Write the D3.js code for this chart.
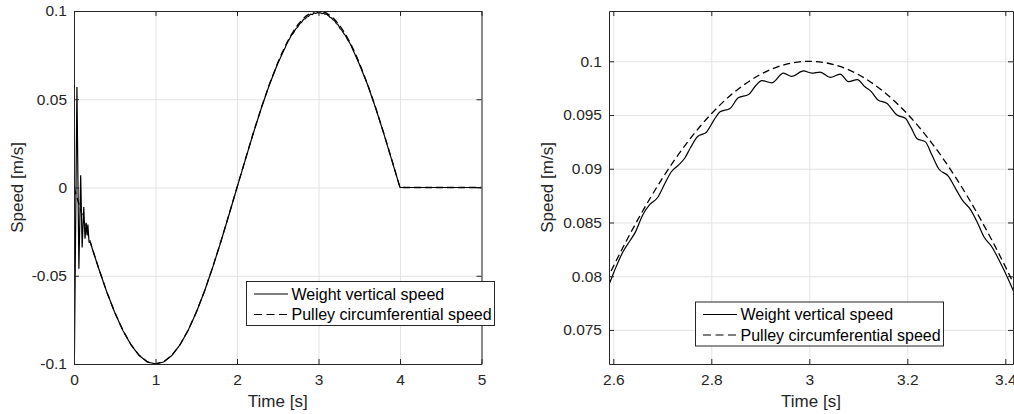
<!DOCTYPE html>
<html>
<head>
<meta charset="utf-8">
<script src="https://cdn.jsdelivr.net/npm/d3@7"></script>
<style>
	body { margin: 0; background: #fff; }
	svg { font-family: "Liberation Sans", Arial, sans-serif; }
	.tick text { fill: #262626; font-size: 15.5px; }
	.axis-title { fill: #262626; font-size: 17px; }
	.legend-labels { fill: #000; font-size: 16px; }
</style>
</head>
<body>
<svg id="viz" width="1014" height="414"></svg>
<script>

// Weight vertical speed [m/s] (denser around the peak)
const weightTime = [0, 0.005, 0.036, 0.06, 0.082, 0.1, 0.12, 0.135, 0.15, 0.16, 0.17, 0.185,
	0.2, 0.25, 0.3, 0.4, 0.5, 0.6, 0.7, 0.8, 0.9, 1.0, 1.1, 1.2, 1.3, 1.4, 1.5, 1.6, 1.7, 1.8, 1.9,
	2.0, 2.1, 2.2, 2.3, 2.4, 2.5, 2.55, 2.575, 2.591, 2.605, 2.62, 2.634, 2.645, 2.66, 2.675, 2.69,
	2.705, 2.718, 2.732, 2.746, 2.758, 2.772, 2.79, 2.805, 2.818, 2.838, 2.855, 2.876, 2.89, 2.903,
	2.924, 2.947, 2.964, 2.988, 3.005, 3.022, 3.043, 3.063, 3.08, 3.098, 3.114, 3.126, 3.14, 3.158,
	3.179, 3.196, 3.208, 3.22, 3.237, 3.25, 3.264, 3.284, 3.298, 3.312, 3.329, 3.343, 3.356, 3.373,
	3.385, 3.397, 3.414, 3.43, 3.5, 3.6, 3.7, 3.8, 3.9, 4.0, 5.0];
const weightSpeed = [0, -0.097, 0.057, -0.046, 0.007, -0.034, -0.011, -0.029, -0.02, -0.027, -0.021, -0.031,
	-0.0312, -0.0384, -0.0455, -0.0589, -0.0708, -0.081, -0.0892, -0.0952, -0.0989, -0.0999, -0.0989, -0.0952, -0.0892, -0.081, -0.0708, -0.0589, -0.0455, -0.031, -0.0157,
	-0.0001, 0.0154, 0.0307, 0.0452, 0.0585, 0.0703, 0.0752, 0.0777, 0.0792, 0.0808, 0.0823, 0.0833, 0.0841, 0.0857, 0.0867, 0.0873,
	0.0886, 0.0897, 0.0903, 0.091, 0.092, 0.093, 0.0934, 0.0945, 0.0953, 0.0956, 0.0966, 0.0969, 0.0977, 0.0982,
	0.098, 0.0989, 0.0986, 0.0991, 0.0989, 0.099, 0.0985, 0.0988, 0.0981, 0.0983, 0.0976, 0.0972, 0.0964, 0.0961,
	0.095, 0.0947, 0.0938, 0.0928, 0.0925, 0.0913, 0.09, 0.0893, 0.0882, 0.0871, 0.0862, 0.085, 0.0837, 0.0827,
	0.0817, 0.0806, 0.0789, 0.0772, 0.07, 0.0585, 0.0452, 0.0307, 0.0154, 0, 0];

// Pulley circumferential speed [m/s]
const pulleyTime = [0, 0.1, 0.2, 0.3, 0.4, 0.5, 0.6, 0.7, 0.8, 0.9, 1.0, 1.1, 1.2, 1.3, 1.4, 1.5, 1.6,
	1.7, 1.8, 1.9, 2.0, 2.1, 2.2, 2.3, 2.4, 2.5, 2.55, 2.6, 2.65, 2.7, 2.75, 2.8, 2.85, 2.9, 2.95, 3.0,
	3.05, 3.1, 3.15, 3.2, 3.25, 3.3, 3.35, 3.4, 3.45, 3.5, 3.6, 3.7, 3.8, 3.9, 4.0, 5.0];
const pulleySpeed = [0, -0.0156, -0.0309, -0.0454, -0.0588, -0.0707, -0.0809, -0.0891, -0.0951, -0.0988, -0.1,
	-0.0988, -0.0951, -0.0891, -0.0809, -0.0707, -0.0588, -0.0454, -0.0309, -0.0156, 0,
	0.0156, 0.0309, 0.0454, 0.0588, 0.07071, 0.07604, 0.0809, 0.08526, 0.0891, 0.09239, 0.09511, 0.09724,
	0.09877, 0.09969, 0.1, 0.09969, 0.09877, 0.09724, 0.09511, 0.09239, 0.0891, 0.08526, 0.0809, 0.07604,
	0.07071, 0.0588, 0.0454, 0.0309, 0.0156, 0, 0];

const seriesNames = ["Weight vertical speed", "Pulley circumferential speed"];

// tick labels
const leftXTicks = [0, 1, 2, 3, 4, 5];
const leftYTicks = [-0.1, -0.05, 0, 0.05, 0.1];
const rightXTicks = [2.6, 2.8, 3, 3.2, 3.4];
const rightYTicks = [0.075, 0.08, 0.085, 0.09, 0.095, 0.1];


let drawEverything = function() {

	let svg = d3.select("body").select("svg#viz");

	let weight = weightTime.map((t, i) => ({t: t, v: weightSpeed[i]}));
	let pulley = pulleyTime.map((t, i) => ({t: t, v: pulleySpeed[i]}));

	// full run on the left, zoom on the peak on the right
	const panels = [
		{ id: "left", left: 74, right: 481.5, top: 11, bottom: 364,
			xDomain: [0, 5], yDomain: [-0.1, 0.1], xTicks: leftXTicks, yTicks: leftYTicks,
			curve: d3.curveLinear, legend: [246.5, 281.5], yTitleX: 23 },
		{ id: "right", left: 609, right: 1013, top: 11, bottom: 364,
			xDomain: [2.5912, 3.4157], yDomain: [0.07183, 0.10468], xTicks: rightXTicks, yTicks: rightYTicks,
			curve: d3.curveMonotoneX, legend: [695.5, 302], yTitleX: 553 }
	];

	panels.forEach(drawPanel);

	function drawPanel(p) {
		let plotWidth = p.right - p.left;
		let plotHeight = p.bottom - p.top;

		let x = d3.scaleLinear().domain(p.xDomain).range([0, plotWidth]);
		let y = d3.scaleLinear().domain(p.yDomain).range([plotHeight, 0]);

		let plot = svg.append("g")
			.attr("id", p.id)
			.attr("transform", `translate(${p.left}, ${p.top})`);

		// grid
		let xGrid = plot.append("g")
			.attr("transform", `translate(0, ${plotHeight})`)
			.call(d3.axisBottom(x).tickValues(p.xTicks).tickSize(-plotHeight).tickFormat(""));
		let yGrid = plot.append("g")
			.call(d3.axisLeft(y).tickValues(p.yTicks).tickSize(-plotWidth).tickFormat(""));
		[xGrid, yGrid].forEach(function(g) {
			g.select(".domain").remove();
			g.selectAll("line").attr("stroke", "#e3e3e3");
		});

		// curves
		plot.append("clipPath")
			.attr("id", "clip-" + p.id)
			.append("rect")
			.attr("width", plotWidth)
			.attr("height", plotHeight);

		let line = d3.line()
			.x(d => x(d.t))
			.y(d => y(d.v))
			.curve(p.curve);

		let lines = plot.append("g").attr("clip-path", `url(#clip-${p.id})`);
		lines.append("path")
			.datum(weight)
			.attr("fill", "none")
			.attr("stroke", "#000")
			.attr("stroke-width", 1.2)
			.attr("d", line);
		lines.append("path")
			.datum(pulley)
			.attr("fill", "none")
			.attr("stroke", "#000")
			.attr("stroke-width", 1.3)
			.attr("stroke-dasharray", "7,4")
			.attr("d", line);

		// axes, ticks pointing inside, box all round
		let fmt = d => d3.format("")(d).replace("−", "-");

		let xAxis = plot.append("g")
			.attr("transform", `translate(0, ${plotHeight})`)
			.call(d3.axisBottom(x).tickValues(p.xTicks).tickSize(-5).tickSizeOuter(0).tickPadding(10).tickFormat(fmt));
		let yAxis = plot.append("g")
			.call(d3.axisLeft(y).tickValues(p.yTicks).tickSize(-5).tickSizeOuter(0).tickPadding(7).tickFormat(fmt));
		let topAxis = plot.append("g")
			.call(d3.axisTop(x).tickValues(p.xTicks).tickSize(-5).tickSizeOuter(0).tickFormat(""));
		let rightAxis = plot.append("g")
			.attr("transform", `translate(${plotWidth}, 0)`)
			.call(d3.axisRight(y).tickValues(p.yTicks).tickSize(-5).tickSizeOuter(0).tickFormat(""));

		[xAxis, yAxis, topAxis, rightAxis].forEach(function(g) {
			g.selectAll("path, line").attr("stroke", "#262626");
			g.selectAll("text").attr("font-family", null).attr("font-size", null);
		});

		// titles
		svg.append("text")
			.attr("class", "axis-title")
			.attr("x", p.left + plotWidth / 2)
			.attr("y", 407)
			.attr("text-anchor", "middle")
			.text("Time [s]");

		svg.append("text")
			.attr("class", "axis-title")
			.attr("transform", `translate(${p.yTitleX}, ${p.top + plotHeight / 2}) rotate(-90)`)
			.attr("text-anchor", "middle")
			.text("Speed [m/s]");

		drawLegend(p.legend[0], p.legend[1]);
	}

	function drawLegend(lx, ly) {
		let legend = svg.append("g")
			.attr("transform", `translate(${lx}, ${ly})`);

		legend.append("rect")
			.attr("width", 248)
			.attr("height", 44)
			.attr("fill", "#fff")
			.attr("stroke", "#262626")
			.attr("stroke-width", 1);

		let rows = legend.selectAll("g.row")
			.data(seriesNames)
			.enter().append("g")
			.attr("class", "row")
			.attr("transform", (d, i) => `translate(0, ${12.5 + i * 20.5})`);

		rows.append("line")
			.attr("x1", 7.5)
			.attr("x2", 41.5)
			.attr("stroke", "#000")
			.attr("stroke-width", 1.2)
			.attr("stroke-dasharray", (d, i) => i == 0 ? null : "8,4.5");

		rows.append("text")
			.attr("class", "legend-labels")
			.attr("x", 45)
			.attr("dy", "0.36em")
			.text(d => d);
	}
};

drawEverything();

</script>
</body>
</html>
